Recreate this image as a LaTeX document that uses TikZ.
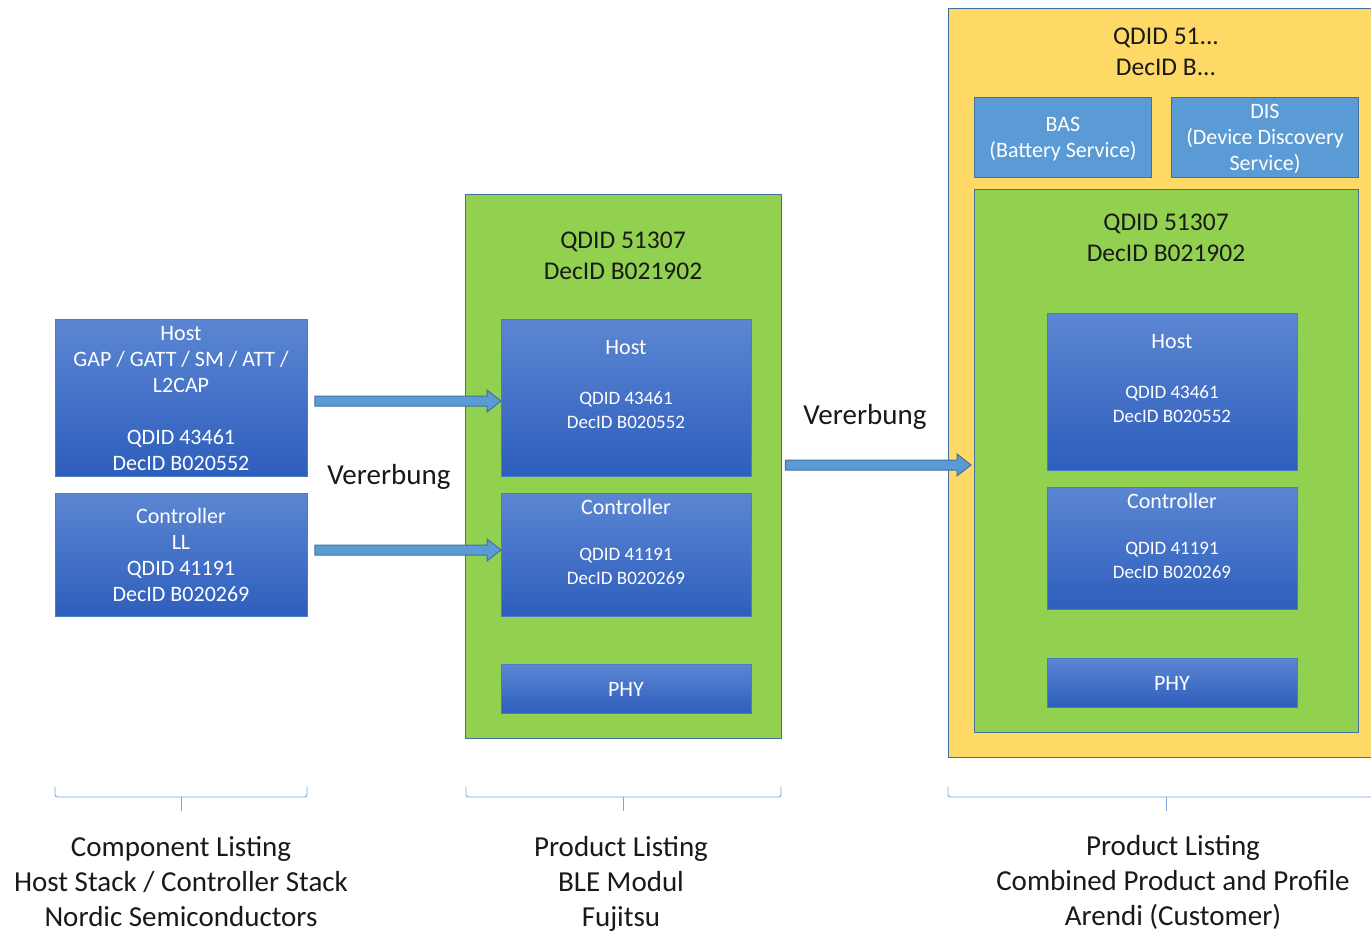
\documentclass[tikz,border=0pt]{standalone}
\usepackage{fontspec}
\setmainfont{Carlito}
\usetikzlibrary{calc}

\definecolor{stackTop}{HTML}{5B86D2}
\definecolor{stackBot}{HTML}{2E5EBD}
\definecolor{stackEdge}{HTML}{4A7CC6}
\definecolor{svcFill}{HTML}{5B9BD5}
\definecolor{frameEdge}{HTML}{41719C}
\definecolor{moduleGreen}{HTML}{92D050}
\definecolor{productYellow}{HTML}{FFD966}
\definecolor{braceBlue}{HTML}{7AA7DA}

\newcommand\bigtext{\fontsize{29}{35}\selectfont}
\newcommand\titletext{\fontsize{25.5}{31}\selectfont}
\newcommand\boxtext{\fontsize{22}{26}\selectfont}
\newcommand\idtext{\fontsize{19}{24}\selectfont}

% wide block arrow between two points (same height)
\newcommand\blockarrow[2]{%
  \draw[fatarrow] let \p1=(#1), \p2=(#2) in
    (\x1,\y1+5) -- (\x2-14,\y1+5) -- (\x2-14,\y1+11) -- (\x2,\y1)
    -- (\x2-14,\y1-11) -- (\x2-14,\y1-5) -- (\x1,\y1-5) -- cycle;}

\tikzset{
  region/.style={draw=frameEdge, line width=1.3pt, inner sep=0pt, anchor=north west},
  stackbox/.style={draw=stackEdge, line width=0.8pt, top color=stackTop, bottom color=stackBot,
    inner sep=0pt, anchor=north west},
  svcbox/.style={draw=frameEdge, line width=1pt, fill=svcFill, inner sep=0pt, anchor=north west},
  wtext/.style={text=white, align=center, inner sep=0pt},
  btext/.style={text=black!90, align=center, inner sep=0pt},
  fatarrow/.style={draw=frameEdge, line width=1pt, fill=svcFill},
  listbrace/.style={draw=braceBlue, line width=0.9pt, rounded corners=2.5pt},
}

\begin{document}
\begin{tikzpicture}[x=1pt,y=-1pt]
\useasboundingbox (0,0) rectangle (1371,930);

% ---------- component listing (left) ----------
\node[stackbox, minimum width=252, minimum height=157] (hostL) at (55,319) {};
\node[wtext, font=\boxtext] (hostLt) at (181,399) {Host\\GAP / GATT / SM / ATT /\\L2CAP\\[26pt]QDID 43461\\DecID B020552};
\node[stackbox, minimum width=252, minimum height=123] (ctrlL) at (55,493) {};
\node[wtext, font=\boxtext] (ctrlLt) at (181,554.5) {Controller\\LL\\QDID 41191\\DecID B020269};

% ---------- BLE module (middle) ----------
\node[region, fill=moduleGreen, minimum width=316, minimum height=544] (modM) at (465,194) {};
\node[btext, font=\titletext] (modMt) at (623,256) {QDID 51307\\DecID B021902};

\node[stackbox, minimum width=250, minimum height=157] (hostM) at (501,319) {};
\node[wtext, font=\boxtext] (hostMh) at (626,348) {Host};
\node[wtext, font=\idtext] (hostMid) at (626,410) {QDID 43461\\DecID B020552};

\node[stackbox, minimum width=250, minimum height=123] (ctrlM) at (501,493) {};
\node[wtext, font=\boxtext] (ctrlMh) at (626,507) {Controller};
\node[wtext, font=\idtext] (ctrlMid) at (626,566) {QDID 41191\\DecID B020269};

\node[stackbox, minimum width=250, minimum height=49] (phyM) at (501,664) {};
\node[wtext, font=\boxtext] (phyMt) at (626,689) {PHY};

% ---------- combined product (right) ----------
\node[region, fill=productYellow, minimum width=440, minimum height=749] (prodR) at (948,8) {};
\node[btext, font=\titletext] (prodRt) at (1166,52) {QDID 51...\\DecID B...};

\node[svcbox, minimum width=177, minimum height=80] (bas) at (974,97) {};
\node[wtext, font=\boxtext] (bast) at (1063,139.5) {BAS\\(Battery Service)};
\node[svcbox, minimum width=187, minimum height=80] (dis) at (1171,97) {};
\node[wtext, font=\boxtext] (dist) at (1265,138.5) {DIS\\(Device Discovery\\Service)};

\node[region, fill=moduleGreen, minimum width=384, minimum height=543] (modR) at (974,189) {};
\node[btext, font=\titletext] (modRt) at (1166,237.5) {QDID 51307\\DecID B021902};

\node[stackbox, minimum width=250, minimum height=157] (hostR) at (1047,313) {};
\node[wtext, font=\boxtext] (hostRh) at (1172,342) {Host};
\node[wtext, font=\idtext] (hostRid) at (1172,404) {QDID 43461\\DecID B020552};

\node[stackbox, minimum width=250, minimum height=122] (ctrlR) at (1047,487) {};
\node[wtext, font=\boxtext] (ctrlRh) at (1172,501) {Controller};
\node[wtext, font=\idtext] (ctrlRid) at (1172,560) {QDID 41191\\DecID B020269};

\node[stackbox, minimum width=250, minimum height=49] (phyR) at (1047,658) {};
\node[wtext, font=\boxtext] (phyRt) at (1172,683) {PHY};

% ---------- inheritance arrows ----------
\coordinate (a1s) at ($(hostL.east |- 0,401)+(7,0)$);
\coordinate (a1e) at (hostM.west |- 0,401);
\coordinate (a2s) at ($(ctrlL.east |- 0,550)+(7,0)$);
\coordinate (a2e) at (ctrlM.west |- 0,550);
\coordinate (a3s) at ($(modM.east |- 0,465)+(3,0)$);
\coordinate (a3e) at ($(modR.west |- 0,465)+(-3,0)$);
\blockarrow{a1s}{a1e}
\blockarrow{a2s}{a2e}
\blockarrow{a3s}{a3e}

\node[btext, font=\bigtext] (inh1) at (389,477) {Vererbung};
\node[btext, font=\bigtext] (inh2) at (865,417) {Vererbung};

% ---------- listing brackets ----------
\coordinate (b1l) at (55,787);  \coordinate (b1r) at (307,787);  \coordinate (b1m) at (181,811);
\coordinate (b2l) at (466,787); \coordinate (b2r) at (781,787);  \coordinate (b2m) at (623,811);
\coordinate (b3l) at (948,787); \coordinate (b3r) at (1390,787); \coordinate (b3m) at (1166,811);
\foreach \b in {b1,b2,b3} {
  \draw[listbrace] (\b l) -- ++(0,10) -| (\b r);
  \draw[listbrace] (\b m) -- ++(0,-14);
}

\node[btext, font=\bigtext] (lst1) at (181,882) {Component Listing\\Host Stack / Controller Stack\\Nordic Semiconductors};
\node[btext, font=\bigtext] (lst2) at (621,884) {Product Listing\\BLE Modul\\Fujitsu};
\node[btext, font=\bigtext] (lst3) at (1173,882.5) {Product Listing\\Combined Product and Profile\\Arendi (Customer)};
\end{tikzpicture}
\end{document}
